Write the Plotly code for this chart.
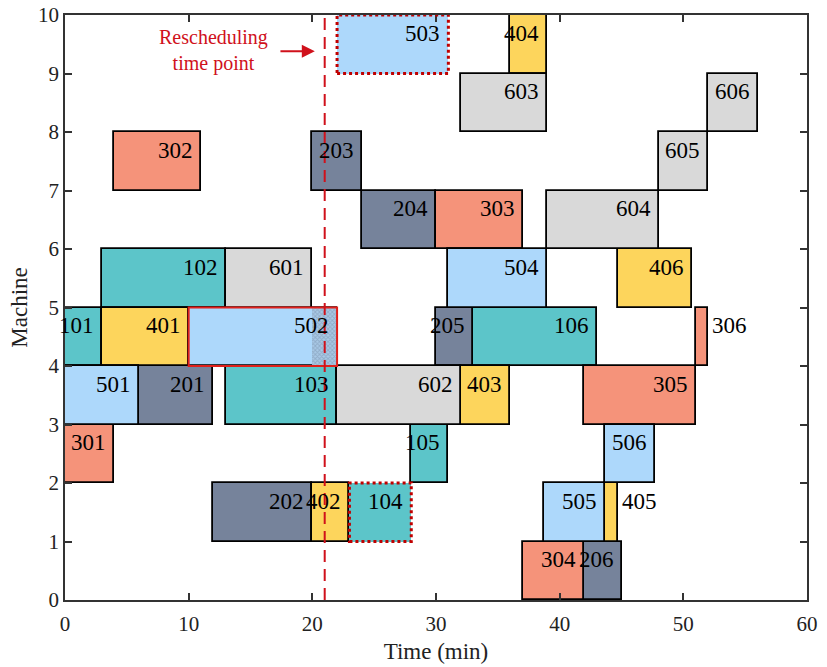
import plotly.graph_objects as go

# ---- data ----
op_labels = ["101", "102", "103", "104", "105", "106",
             "201", "202", "203", "204", "205", "206",
             "301", "302", "303", "304", "305", "306",
             "401", "402", "403", "404", "405", "406",
             "501", "502", "503", "504", "505", "506",
             "601", "602", "603", "604", "605", "606"]
op_machine = [5, 6, 4, 2, 3, 5,
              4, 2, 8, 7, 5, 1,
              3, 8, 7, 1, 4, 5,
              5, 2, 4, 10, 2, 6,
              4, 5, 10, 6, 2, 3,
              6, 4, 9, 7, 8, 9]
op_start = [0, 3, 13, 23, 28, 33,
            6, 12, 20, 24, 30, 42,
            0, 4, 30, 37, 42, 51,
            3, 20, 32, 36, 43.7, 44.7,
            0, 10, 22, 31, 38.7, 43.7,
            13, 22, 32, 39, 48, 52]
op_end = [3, 13, 22, 28, 31, 43,
          12, 20, 24, 30, 33, 45,
          4, 11, 37, 42, 51, 52,
          10, 23, 36, 39, 44.7, 50.7,
          6, 22, 31, 39, 43.7, 47.7,
          20, 32, 39, 48, 52, 56]

dashed_ops = ["503", "104"]       # newly inserted / moved operations
interrupted_op = "502"            # operation cut by the rescheduling point
interrupted_part = (20, 22)       # hatched part of the interrupted operation
reschedule_time = 21

job_colors = {"1": "#5CC5C9", "2": "#76839B", "3": "#F5937A",
              "4": "#FDD55C", "5": "#ADD8FB", "6": "#D9D9D9"}

FONT = "Liberation Serif, Times New Roman, serif"

fig = go.Figure()

for job, col in job_colors.items():
    idx = [i for i, l in enumerate(op_labels) if l[0] == job]
    fig.add_trace(go.Bar(
        orientation="h",
        y=[op_machine[i] - 0.5 for i in idx],
        base=[op_start[i] for i in idx],
        x=[op_end[i] - op_start[i] for i in idx],
        width=1,
        marker=dict(color=col,
                    line=dict(color="black",
                              width=[0 if op_labels[i] in dashed_ops else 1.8 for i in idx])),
        showlegend=False, hoverinfo="skip"))

# hatched part of interrupted operation
ii = op_labels.index(interrupted_op)
fig.add_trace(go.Bar(
    orientation="h", y=[op_machine[ii] - 0.5], base=[interrupted_part[0]],
    x=[interrupted_part[1] - interrupted_part[0]], width=1,
    marker=dict(color="#ADD8FB", line=dict(width=0),
                pattern=dict(shape="x", fgcolor="#7790AA", bgcolor="#A9C9E6",
                             size=3, solidity=0.5)),
    showlegend=False, hoverinfo="skip"))

shapes = []
shapes.append(dict(type="rect", xref="x", yref="y",
                   x0=op_start[ii], x1=op_end[ii],
                   y0=op_machine[ii] - 1, y1=op_machine[ii],
                   line=dict(color="#E0201B", width=2)))
for lab in dashed_ops:
    k = op_labels.index(lab)
    shapes.append(dict(type="rect", xref="x", yref="y",
                       x0=op_start[k], x1=op_end[k],
                       y0=op_machine[k] - 1, y1=op_machine[k],
                       line=dict(color="#C00000", width=3, dash="3px,3px")))
shapes.append(dict(type="line", xref="x", yref="y",
                   x0=reschedule_time, x1=reschedule_time, y0=0, y1=10,
                   line=dict(color="#D0111B", width=2, dash="12px,7px")))

annotations = []
for lab, m, s, e in zip(op_labels, op_machine, op_start, op_end):
    outside = (e - s) <= 1.05
    annotations.append(dict(x=e, y=m - 0.5, text=lab, showarrow=False,
                            xanchor="left" if outside else "right", yanchor="middle",
                            xshift=2 if outside else -6, yshift=11,
                            font=dict(family=FONT, size=23, color="black")))

annotations.append(dict(x=12.0, y=9.4, text="Rescheduling<br>time point",
                        showarrow=False, xanchor="center", yanchor="middle",
                        font=dict(family=FONT, size=20, color="#D0111B")))
annotations.append(dict(x=20.2, y=9.38, ax=17.3, ay=9.38, axref="x", ayref="y",
                        xref="x", yref="y", text="", showarrow=True,
                        arrowhead=2, arrowsize=1.3, arrowwidth=2, arrowcolor="#D0111B"))

fig.update_layout(
    width=827, height=667,
    margin=dict(l=65, r=20, t=15, b=67, autoexpand=False),
    paper_bgcolor="white", plot_bgcolor="white",
    barmode="overlay", bargap=0,
    shapes=shapes, annotations=annotations,
    font=dict(family=FONT, size=21, color="#222"),
)
fig.update_xaxes(range=[0, 60], tickvals=list(range(0, 61, 10)),
                 ticks="inside", ticklen=7, tickwidth=1.5, tickcolor="#333",
                 mirror="allticks", showline=True, linecolor="#333", linewidth=1.5,
                 showgrid=False, zeroline=False, automargin=False,
                 ticklabelstandoff=4,
                 tickfont=dict(family=FONT, size=21, color="#222"),
                 title=dict(text="Time (min)", font=dict(family=FONT, size=23, color="#222"),
                            standoff=8))
fig.update_yaxes(range=[0, 10], tickvals=list(range(0, 11)),
                 ticks="inside", ticklen=7, tickwidth=1.5, tickcolor="#333",
                 mirror="allticks", showline=True, linecolor="#333", linewidth=1.5,
                 showgrid=False, zeroline=False, automargin=False,
                 tickfont=dict(family=FONT, size=21, color="#222"),
                 title=dict(text="Machine", font=dict(family=FONT, size=23, color="#222"),
                            standoff=4))

fig.write_html("out.html")
